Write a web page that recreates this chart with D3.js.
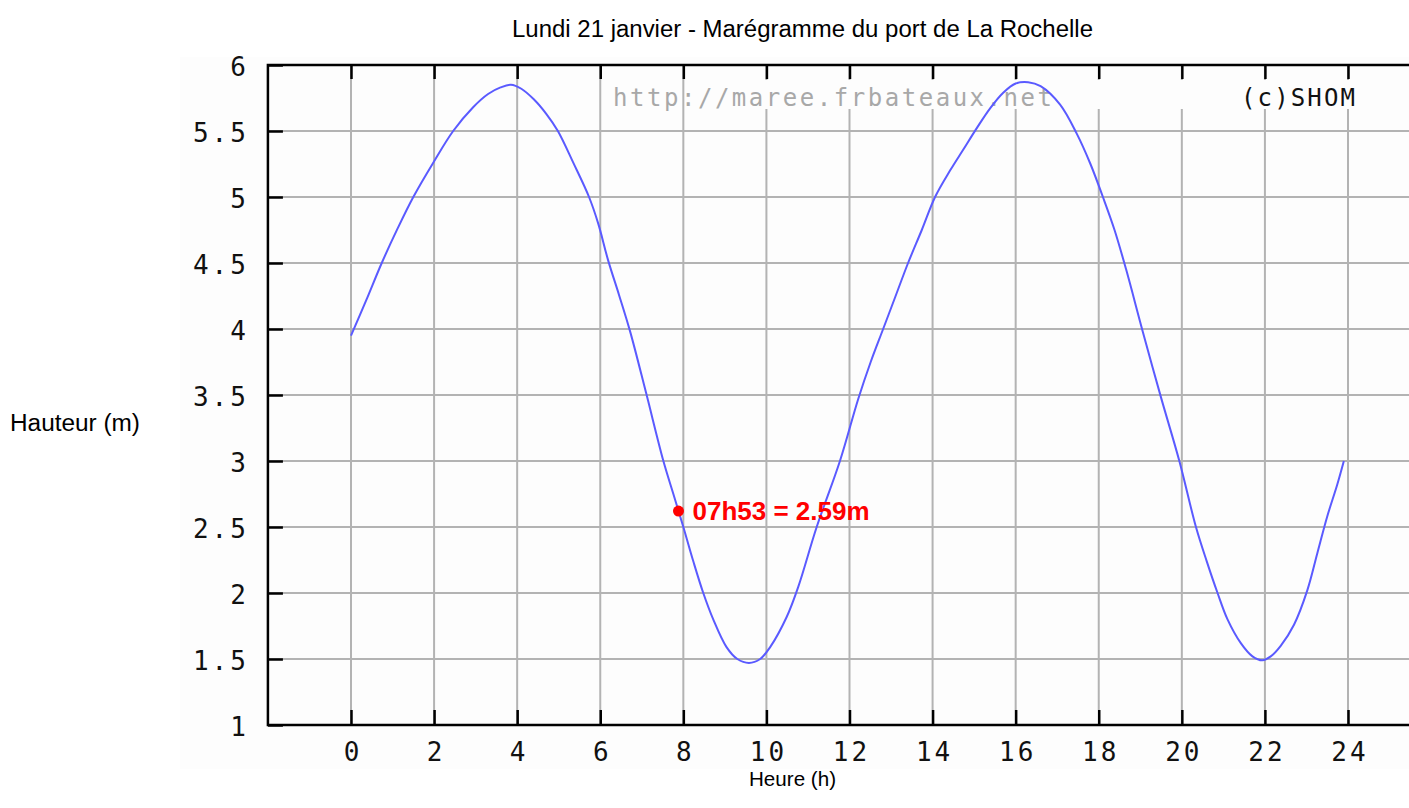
<!DOCTYPE html>
<html>
<head>
<meta charset="utf-8">
<script src="https://cdn.jsdelivr.net/npm/d3@7"></script>
<style>
  html, body { margin: 0; padding: 0; background: #ffffff; }
  svg { display: block; }
</style>
</head>
<body>
<svg id="chart" width="1409" height="808"></svg>
<script>
// ---- data ----
const title = "Lundi 21 janvier - Marégramme du port de La Rochelle";
const yAxisLabel = "Hauteur (m)";
const xAxisLabel = "Heure (h)";
const watermark = "http://maree.frbateaux.net";
const copyright = "(c)SHOM";
const hours = [0.00,0.37,0.74,1.12,1.50,1.98,2.46,2.94,3.30,3.60,3.85,4.10,4.40,4.70,4.98,5.35,5.73,5.95,6.19,6.45,6.72,7.10,7.52,7.76,8.00,8.24,8.48,8.72,9.04,9.30,9.58,9.85,10.09,10.49,10.77,11.21,11.77,12.21,12.51,12.81,13.11,13.41,13.74,14.06,14.42,14.74,15.06,15.38,15.70,16.00,16.30,16.60,17.07,17.47,17.80,18.10,18.38,18.66,19.06,19.50,19.94,20.34,20.60,20.86,21.10,21.42,21.70,21.94,22.14,22.38,22.70,23.02,23.26,23.50,23.74,23.90];
const heights = [3.95,4.22,4.50,4.76,5.00,5.26,5.50,5.68,5.78,5.83,5.85,5.82,5.74,5.63,5.50,5.26,5.00,4.80,4.52,4.26,3.98,3.52,3.00,2.75,2.50,2.24,2.00,1.80,1.59,1.50,1.47,1.50,1.59,1.82,2.05,2.50,3.00,3.47,3.75,4.00,4.25,4.50,4.75,5.00,5.20,5.36,5.52,5.67,5.79,5.86,5.87,5.84,5.70,5.48,5.25,5.00,4.75,4.45,3.98,3.48,3.00,2.50,2.24,2.00,1.80,1.62,1.52,1.49,1.52,1.60,1.76,2.02,2.30,2.58,2.82,3.00];
const xTicks = [0,2,4,6,8,10,12,14,16,18,20,22,24];
const xGrid = [0,2,4,6,8,10,12,14,16,18,20,22,24,26];
const yTicks = [1,1.5,2,2.5,3,3.5,4,4.5,5,5.5,6];
const markerHour = [7 + 53/60];
const markerHeight = [2.59];
const markerLabel = ["07h53 = 2.59m"];

// ---- drawing ----
const svg = d3.select("#chart");
const x = d3.scaleLinear().domain([0, 24]).range([351, 1348]);
const y = d3.scaleLinear().domain([1, 6]).range([725, 65]);
const xMin = -2, xMax = 26;

const monoFont = "'DejaVu Sans Mono', 'Liberation Mono', monospace";
const sansFont = "'Liberation Sans', Arial, sans-serif";

// image background
svg.append("rect").attr("x", 180).attr("y", 57).attr("width", 1300).attr("height", 712)
  .attr("fill", "#fdfdfd");

// grid
const grid = svg.append("g").attr("stroke", "#b3b3b3").attr("stroke-width", 2);
grid.selectAll("line.v").data(xGrid).join("line").attr("class", "v")
  .attr("x1", d => x(d)).attr("x2", d => x(d))
  .attr("y1", y(6)).attr("y2", y(1));
grid.selectAll("line.h").data(yTicks.slice(1, -1)).join("line").attr("class", "h")
  .attr("x1", x(xMin)).attr("x2", x(xMax))
  .attr("y1", d => y(d)).attr("y2", d => y(d));

// key area clears grid behind it
svg.append("rect").attr("x", 700).attr("y", 80).attr("width", 760).attr("height", 29)
  .attr("fill", "#fdfdfd");

// axes (ticks + labels)
const yAxis = d3.axisLeft(y).tickValues(yTicks).tickSize(-15).tickPadding(19)
  .tickFormat(d => String(d));
const gy = svg.append("g").attr("transform", `translate(${x(xMin)},0)`).call(yAxis);
const xAxis = d3.axisBottom(x).tickValues(xTicks).tickSize(-15).tickPadding(18)
  .tickFormat(d => String(d));
const gx = svg.append("g").attr("transform", `translate(0,${y(1)})`).call(xAxis);
const xTop = d3.axisTop(x).tickValues(xTicks.concat([26])).tickSize(-14).tickFormat("");
const gt = svg.append("g").attr("transform", `translate(0,${y(6)})`).call(xTop);
[gy, gx, gt].forEach(g => {
  g.select(".domain").remove();
  g.selectAll(".tick line").attr("stroke", "#000").attr("stroke-width", 2.5);
  g.selectAll(".tick text").attr("fill", "#111").attr("font-family", monoFont)
    .attr("font-size", 26).attr("letter-spacing", 3);
});
gy.selectAll(".tick text").attr("dy", "0.40em");
gx.selectAll(".tick text").attr("dx", 1.5);

// frame
const frame = svg.append("g").attr("stroke", "#000").attr("stroke-width", 2.5).attr("fill", "none");
frame.append("path").attr("d", d3.line()([[x(xMax), y(6)], [x(xMin), y(6)], [x(xMin), y(1)], [x(xMax), y(1)]]));

// watermark texts
svg.append("text").attr("x", 613).attr("y", 106).attr("font-family", monoFont)
  .attr("font-size", 24).attr("textLength", 439).attr("lengthAdjust", "spacing")
  .attr("fill", "#a8a8a8").text(watermark);
svg.append("text").attr("x", 1241).attr("y", 106).attr("font-family", monoFont)
  .attr("font-size", 24).attr("textLength", 114).attr("lengthAdjust", "spacing")
  .attr("fill", "#111").text(copyright);

// tide curve
const pts = hours.map((h, i) => [h, heights[i]]);
svg.append("path").datum(pts)
  .attr("fill", "none").attr("stroke", "#5a5aff").attr("stroke-width", 2)
  .attr("d", d3.line().x(d => x(d[0])).y(d => y(d[1])).curve(d3.curveCatmullRom.alpha(0.5)));

// marker
const mk = svg.append("g").attr("transform", "translate(0,-4)");
mk.selectAll("circle").data(markerHour).join("circle")
  .attr("cx", d => x(d)).attr("cy", (d, i) => y(markerHeight[i])).attr("r", 5.5)
  .attr("fill", "#ff0000");
mk.selectAll("text").data(markerHour).join("text")
  .attr("x", d => x(d) + 14).attr("y", (d, i) => y(markerHeight[i]))
  .attr("dy", "0.36em").attr("font-family", sansFont).attr("font-weight", "bold")
  .attr("font-size", 26).attr("fill", "#ff0000").text((d, i) => markerLabel[i]);

// titles
svg.append("text").attr("x", 512).attr("y", 37)
  .attr("font-family", sansFont).attr("font-size", 23)
  .attr("textLength", 581).attr("lengthAdjust", "spacingAndGlyphs")
  .attr("fill", "#000").text(title);
svg.append("text").attr("x", 10).attr("y", 431)
  .attr("font-family", sansFont).attr("font-size", 23)
  .attr("textLength", 130).attr("lengthAdjust", "spacingAndGlyphs")
  .attr("fill", "#000").text(yAxisLabel);
svg.append("text").attr("x", 749).attr("y", 786)
  .attr("font-family", sansFont).attr("font-size", 20.5)
  .attr("textLength", 87).attr("lengthAdjust", "spacingAndGlyphs")
  .attr("fill", "#000").text(xAxisLabel);
</script>
</body>
</html>
